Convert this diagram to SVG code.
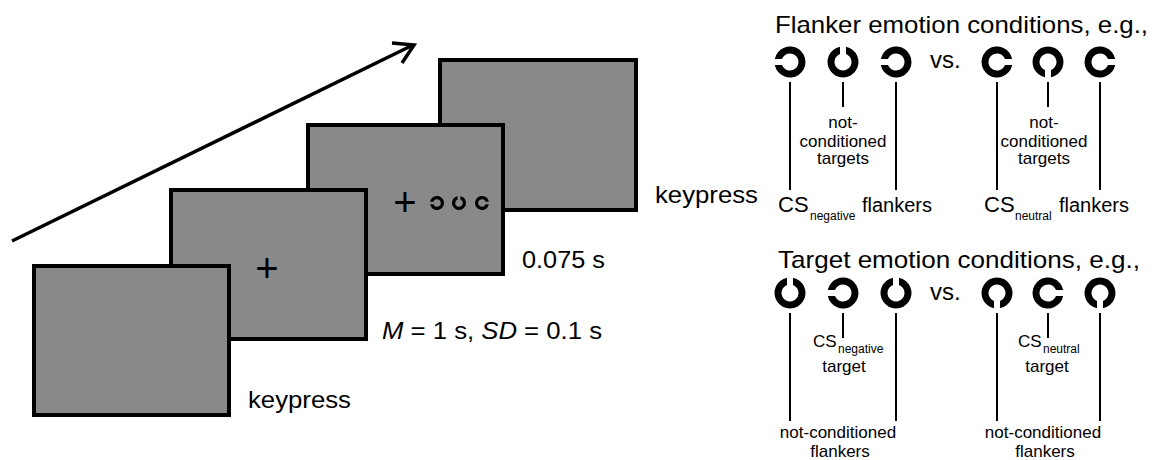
<svg xmlns="http://www.w3.org/2000/svg" xmlns:xlink="http://www.w3.org/1999/xlink" width="1158" height="460" viewBox="0 0 1158 460">
<style>
text{font-family:"Liberation Sans",Arial,sans-serif;fill:#000}
.big{font-size:24px}
.mid{font-size:20px}
.cs{font-size:22px}
.sm{font-size:17px}
.sub{font-size:12px}
.cross{font-size:40px}
.scr{fill:#898989;stroke:#000;stroke-width:4}
.lead{stroke:#000;stroke-width:2;fill:none}
.c{text-anchor:middle}
</style>
<defs>
<path id="lc" d="M 15.21 3 A 15.5 15.5 0 1 1 15.21 -3 L 7.95 -3 A 8.5 8.5 0 1 0 7.95 3 Z" fill="#000"/>
</defs>

<g id="connectors">
<line x1="12" y1="241" x2="413" y2="45" stroke="#000" stroke-width="3.5"/>
<polyline points="392,43 414,45 402,63" fill="none" stroke="#000" stroke-width="3.5" stroke-linejoin="miter"/>
<line class="lead" x1="790" y1="82" x2="790" y2="190"/>
<line class="lead" x1="843" y1="82" x2="843" y2="107"/>
<line class="lead" x1="896" y1="82" x2="896" y2="190"/>
<line class="lead" x1="997" y1="82" x2="997" y2="190"/>
<line class="lead" x1="1048" y1="82" x2="1048" y2="107"/>
<line class="lead" x1="1100" y1="82" x2="1100" y2="190"/>
<line class="lead" x1="790" y1="313" x2="790" y2="421"/>
<line class="lead" x1="843" y1="313" x2="843" y2="338"/>
<line class="lead" x1="896" y1="313" x2="896" y2="421"/>
<line class="lead" x1="997" y1="313" x2="997" y2="421"/>
<line class="lead" x1="1048" y1="313" x2="1048" y2="338"/>
<line class="lead" x1="1100" y1="313" x2="1100" y2="421"/>
</g>

<g id="screen4">
<rect class="scr" x="440" y="60" width="196" height="150"/>
</g>
<g id="screen3">
<rect class="scr" x="308" y="125" width="195" height="149"/>
<text class="cross c" x="405" y="216">+</text>
<use xlink:href="#lc" href="#lc" transform="translate(437,203) scale(0.45) rotate(180)"/>
<use xlink:href="#lc" href="#lc" transform="translate(459,203) scale(0.45) rotate(-90)"/>
<use xlink:href="#lc" href="#lc" transform="translate(482,203) scale(0.45)"/>
</g>
<g id="screen2">
<rect class="scr" x="171" y="190" width="195" height="149"/>
<text class="cross c" x="267" y="282">+</text>
</g>
<g id="screen1">
<rect class="scr" x="34" y="266" width="195" height="149"/>
</g>

<g id="timing-labels">
<text class="big" x="248" y="408" textLength="103" lengthAdjust="spacingAndGlyphs">keypress</text>
<text class="big" x="382" y="339" textLength="220" lengthAdjust="spacingAndGlyphs"><tspan font-style="italic">M</tspan> = 1 s, <tspan font-style="italic">SD</tspan> = 0.1 s</text>
<text class="big" x="522" y="268" textLength="83" lengthAdjust="spacingAndGlyphs">0.075 s</text>
<text class="big" x="655" y="203" textLength="103" lengthAdjust="spacingAndGlyphs">keypress</text>
</g>

<g id="flanker-conditions">
<text class="big" x="775" y="33" textLength="373" lengthAdjust="spacingAndGlyphs">Flanker emotion conditions, e.g.,</text>
<use href="#lc" xlink:href="#lc" transform="translate(790,62) rotate(180)"/>
<use href="#lc" xlink:href="#lc" transform="translate(843,62) rotate(-90)"/>
<use href="#lc" xlink:href="#lc" transform="translate(896,62) rotate(180)"/>
<text class="big" x="930" y="68">vs.</text>
<use href="#lc" xlink:href="#lc" transform="translate(997,62)"/>
<use href="#lc" xlink:href="#lc" transform="translate(1048,62) rotate(90)"/>
<use href="#lc" xlink:href="#lc" transform="translate(1100,62)"/>
<text class="sm c" x="843" y="128">not-</text>
<text class="sm c" x="843" y="147">conditioned</text>
<text class="sm c" x="843" y="164">targets</text>
<text class="sm c" x="1044" y="128">not-</text>
<text class="sm c" x="1044" y="147">conditioned</text>
<text class="sm c" x="1044" y="164">targets</text>
<text class="cs" x="778" y="212">CS<tspan class="sub" x="810" y="220">negative</tspan></text>
<text class="mid" x="862" y="212">flankers</text>
<text class="cs" x="984" y="212">CS<tspan class="sub" x="1015" y="220">neutral</tspan></text>
<text class="mid" x="1059" y="212">flankers</text>
</g>

<g id="target-conditions">
<text class="big" x="778" y="268" textLength="362" lengthAdjust="spacingAndGlyphs">Target emotion conditions, e.g.,</text>
<use href="#lc" xlink:href="#lc" transform="translate(790,293) rotate(-90)"/>
<use href="#lc" xlink:href="#lc" transform="translate(843,293) rotate(180)"/>
<use href="#lc" xlink:href="#lc" transform="translate(896,293) rotate(-90)"/>
<text class="big" x="930" y="300">vs.</text>
<use href="#lc" xlink:href="#lc" transform="translate(997,293) rotate(90)"/>
<use href="#lc" xlink:href="#lc" transform="translate(1048,293)"/>
<use href="#lc" xlink:href="#lc" transform="translate(1100,293) rotate(90)"/>
<text class="sm" x="813" y="347">CS<tspan class="sub" x="838" y="353">negative</tspan></text>
<text class="sm c" x="844" y="372">target</text>
<text class="sm" x="1018" y="347">CS<tspan class="sub" x="1043" y="353">neutral</tspan></text>
<text class="sm c" x="1047" y="372">target</text>
<text class="sm c" x="838" y="438">not-conditioned</text>
<text class="sm c" x="840" y="457">flankers</text>
<text class="sm c" x="1043" y="438">not-conditioned</text>
<text class="sm c" x="1045" y="457">flankers</text>
</g>
</svg>
